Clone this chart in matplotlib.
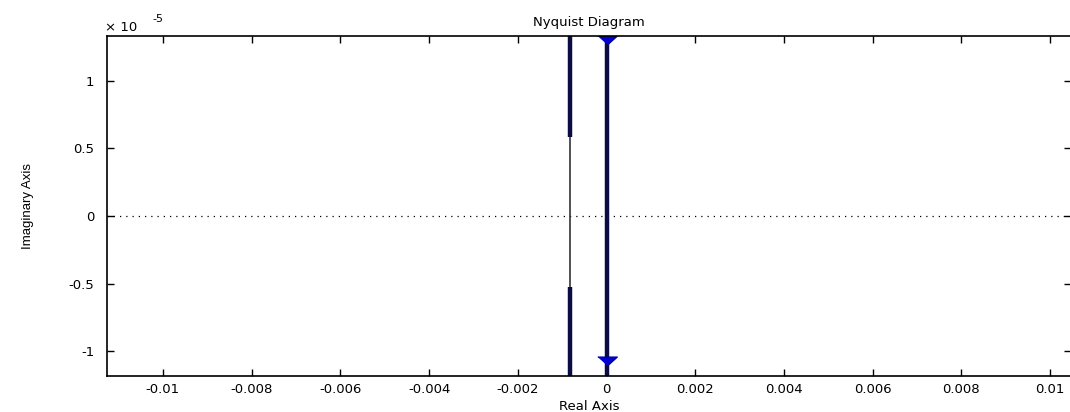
import numpy as np
import matplotlib
matplotlib.use("Agg")
import matplotlib.pyplot as plt

plt.rcParams['font.family'] = ['DejaVu Sans']

# Nyquist branches (real part, imaginary part in units of 1e-5)
branch_a_re = [-0.00082, -0.00082]
branch_a_im = [1.40, -1.30]
thick_a_top_im = [1.40, 0.585]
thick_a_bot_im = [-0.526, -1.30]
branch_b_re = [0.0, 0.0]
branch_b_im = [1.40, -1.30]
arrow_re = [0.0, 0.0]
arrow_im = [1.305, -1.075]

xticks = [-0.01, -0.008, -0.006, -0.004, -0.002, 0, 0.002, 0.004, 0.006, 0.008, 0.01]
xticklabels = ['-0.01', '-0.008', '-0.006', '-0.004', '-0.002', '0',
               '0.002', '0.004', '0.006', '0.008', '0.01']
yticks = [-1, -0.5, 0, 0.5, 1]
yticklabels = ['-1', '-0.5', '0', '0.5', '1']

W, H = 1070, 412
fig = plt.figure(figsize=(W / 100, H / 100), dpi=100)
left, right, top, bottom = 107, 1071, 36, 376
ax = fig.add_axes([left / W, 1 - bottom / H, (right - left) / W, (bottom - top) / H])

navy = '#0b0b45'
ax.axhline(0, color='black', linestyle=(0, (1, 4)), linewidth=0.9)
ax.plot(branch_a_re, branch_a_im, color='#333333', linewidth=1.2)
ax.plot(branch_a_re, thick_a_top_im, color=navy, linewidth=3.2, solid_capstyle='butt')
ax.plot(branch_a_re, thick_a_bot_im, color=navy, linewidth=3.2, solid_capstyle='butt')
ax.plot(branch_b_re, branch_b_im, color=navy, linewidth=3.2)

tri = [(-1.0, 0.45), (1.0, 0.45), (0.0, -0.45)]
ax.plot(arrow_re, arrow_im, linestyle='none', marker=tri, markersize=14,
        color='#0000d0', markeredgecolor='#0000a0', clip_on=True)

ax.set_xlim(-0.01126, 0.01047)
ax.set_ylim(-1.185, 1.333)
ax.set_xticks(xticks)
ax.set_xticklabels(xticklabels)
ax.set_yticks(yticks)
ax.set_yticklabels(yticklabels)
ax.tick_params(direction='in', top=True, right=True, length=5, width=1,
               labelsize=9.5)
ax.tick_params(axis='x', pad=5)
ax.tick_params(axis='y', pad=9)
for s in ax.spines.values():
    s.set_linewidth(1.2)

ax.set_title('Nyquist Diagram', fontsize=9.5, pad=7)
ax.set_xlabel('Real Axis', fontsize=9.5, labelpad=3)
ax.set_ylabel('Imaginary Axis', fontsize=9.5, family='Liberation Sans')
ax.yaxis.set_label_coords(-0.076, 0.5)

fig.text(105 / W, 1 - 31 / H, '× 10', fontsize=9.5, ha='left', va='baseline')
fig.text(152 / W, 1 - 22 / H, '-5', fontsize=8, ha='left', va='baseline')

fig.savefig('out.png', dpi=100)
